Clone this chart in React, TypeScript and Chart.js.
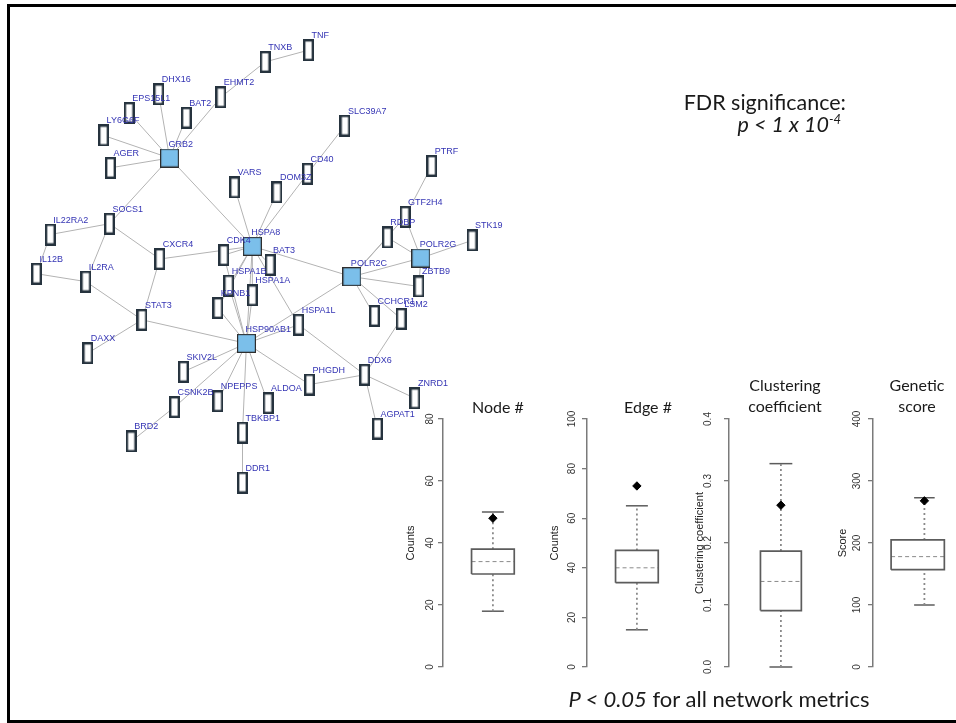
import React, { useEffect, useRef } from "react";
import { Chart, registerables } from "chart.js";
Chart.register(...registerables);

// ---------------- Network data (layout units) ----------------
const nodeNames = ["TNF","TNXB","EHMT2","DHX16","EPS15L1","BAT2","LY6G6F","AGER","GRB2","VARS","DOM3Z","CD40","SLC39A7","SOCS1","IL22RA2","IL12B","IL2RA","DAXX","STAT3","CXCR4","CDK4","HSPA8","BAT3","HSPA1B","HSPA1A","KPNB1","HSP90AB1","HSPA1L","SKIV2L","CSNK2B","BRD2","NPEPPS","ALDOA","TBKBP1","DDR1","PHGDH","PTRF","GTF2H4","RDBP","STK19","POLR2G","POLR2C","ZBTB9","CCHCR1","LSM2","DDX6","ZNRD1","AGPAT1"];
const nodeX = [306,262,217,154,124,182,98,105,165,231,274,305,343,104,44,30,80,82,137,155,220,249,267,225,249,214,243,296,179,170,126,214,265,239,239,307,431,404,386,472,420,350,418,373,400,363,414,376];
const nodeY = [44,56,92,89,108,113,131,164,154,184,189,170,121,221,232,272,280,353,319,257,253,244,263,284,294,307,343,324,372,408,443,402,404,434,485,385,162,214,235,238,256,275,285,315,318,375,399,430];
const hubNodes = ["GRB2","HSPA8","HSP90AB1","POLR2C","POLR2G"];
const edgeList: [string, string][] = [
  ["TNF","TNXB"],["TNXB","EHMT2"],["EHMT2","GRB2"],["BAT2","GRB2"],["DHX16","GRB2"],["EPS15L1","GRB2"],["LY6G6F","GRB2"],["AGER","GRB2"],["GRB2","SOCS1"],["GRB2","HSPA8"],
  ["SOCS1","IL22RA2"],["SOCS1","IL2RA"],["SOCS1","CXCR4"],["IL22RA2","IL12B"],["IL12B","IL2RA"],["IL2RA","STAT3"],["STAT3","DAXX"],["STAT3","CXCR4"],["STAT3","HSP90AB1"],["CXCR4","HSPA8"],
  ["VARS","HSPA8"],["DOM3Z","HSPA8"],["CD40","HSPA8"],["CD40","SLC39A7"],["CDK4","HSPA8"],["CDK4","HSP90AB1"],["BAT3","HSPA8"],["HSPA1B","HSPA8"],["HSPA1A","HSPA8"],["KPNB1","HSPA8"],
  ["HSPA8","HSP90AB1"],["HSPA8","HSPA1L"],["HSPA8","POLR2C"],["HSPA1B","HSP90AB1"],["HSPA1A","HSP90AB1"],["KPNB1","HSP90AB1"],["HSP90AB1","HSPA1L"],["HSP90AB1","POLR2C"],["HSP90AB1","SKIV2L"],["HSP90AB1","CSNK2B"],
  ["HSP90AB1","NPEPPS"],["HSP90AB1","TBKBP1"],["HSP90AB1","ALDOA"],["HSP90AB1","PHGDH"],["CSNK2B","BRD2"],["TBKBP1","DDR1"],["HSPA1L","DDX6"],["PHGDH","DDX6"],["DDX6","ZNRD1"],["DDX6","AGPAT1"],
  ["DDX6","LSM2"],["LSM2","POLR2C"],["CCHCR1","POLR2C"],["ZBTB9","POLR2C"],["ZBTB9","POLR2G"],["POLR2C","POLR2G"],["POLR2C","RDBP"],["POLR2C","GTF2H4"],["RDBP","POLR2G"],["GTF2H4","POLR2G"],["GTF2H4","PTRF"],["STK19","POLR2G"]
];

// ---------------- Boxplot data ----------------
const metricTitles = ["Node #", "Edge #", "Clustering\ncoefficient", "Genetic\nscore"];
const metricAxisTitles = ["Counts", "Counts", "Clustering coefficient", "Score"];
const metricMin = [18, 15, 0, 100];
const metricQ1 = [30, 34, 0.091, 157];
const metricMedian = [34, 40, 0.138, 178];
const metricQ3 = [38, 47, 0.187, 205];
const metricMax = [50, 65, 0.328, 273];
const metricObserved = [48, 73, 0.261, 268];
const axisMax = [80, 100, 0.4, 400];
const axisStep = [20, 20, 0.1, 100];
const tickDecimals = [0, 0, 1, 0];

// ---------------- Layout (pixels / fractions) ----------------
const AXIS_W = 50;
const PANEL_TOP = 400;
const PANEL_H = 287;
const panelLayout = [
  { axis: 443, plotW: 105, boxL: 0.286, boxR: 0.714, wx: 0.5, cap: 0.11, tickPad: 2.5, titlePad: 11.4, titleCx: 498 },
  { axis: 587, plotW: 105, boxL: 0.286, boxR: 0.714, wx: 0.5, cap: 0.11, tickPad: 1, titlePad: 11.4, titleCx: 648 },
  { axis: 729, plotW: 109, boxL: 0.303, boxR: 0.697, wx: 0.5, cap: 0.11, tickPad: 8.5, titlePad: 14.4, titleCx: 785 },
  { axis: 873, plotW: 108, boxL: 0.176, boxR: 0.694, wx: 0.5, cap: 0.1, tickPad: 2, titlePad: 13.4, titleCx: 917 },
];

const labelPlugin = {
  id: "nodeLabels",
  afterDatasetsDraw(chart: any) {
    const { ctx, scales } = chart;
    ctx.save();
    ctx.font = '9px "Liberation Sans", Arial, sans-serif';
    ctx.fillStyle = "#3434b4";
    ctx.textBaseline = "alphabetic";
    nodeNames.forEach((n, i) => {
      const px = scales.x.getPixelForValue(nodeX[i]);
      const py = scales.y.getPixelForValue(nodeY[i]);
      const hub = hubNodes.includes(n);
      ctx.fillText(n, px + (hub ? -1 : 3), py - (hub ? 11 : 12));
    });
    ctx.restore();
  },
};

function NetworkChart() {
  const ref = useRef<HTMLCanvasElement>(null);
  useEffect(() => {
    const small = document.createElement("canvas");
    small.width = 11; small.height = 22;
    const sc = small.getContext("2d")!;
    sc.fillStyle = "#ffffff"; sc.fillRect(0, 0, 11, 22);
    sc.strokeStyle = "#26333e"; sc.lineWidth = 2.4; sc.strokeRect(1.2, 1.2, 8.6, 19.6);
    const hub = document.createElement("canvas");
    hub.width = 19; hub.height = 19;
    const hc = hub.getContext("2d")!;
    hc.fillStyle = "#7bbfea"; hc.fillRect(0, 0, 19, 19);
    hc.strokeStyle = "#2e2e2e"; hc.lineWidth = 1.2; hc.strokeRect(0.6, 0.6, 17.8, 17.8);

    const idx = (n: string) => nodeNames.indexOf(n);
    const edgeDatasets = edgeList.map(([a, b]) => ({
      data: [ { x: nodeX[idx(a)], y: nodeY[idx(a)] }, { x: nodeX[idx(b)], y: nodeY[idx(b)] } ],
      showLine: true, borderColor: "#b3b3b3", borderWidth: 1, pointRadius: 0, order: 2, clip: false as any,
    }));
    const nodeDataset = {
      data: nodeNames.map((_, i) => ({ x: nodeX[i], y: nodeY[i] })),
      pointStyle: nodeNames.map((n) => (hubNodes.includes(n) ? hub : small)),
      pointRadius: 6, showLine: false, order: 1, clip: false as any,
    };
    const chart = new Chart(ref.current!, {
      type: "scatter",
      data: { datasets: [nodeDataset as any, ...edgeDatasets] },
      options: {
        animation: false, responsive: false, events: [],
        layout: { padding: 0 },
        plugins: { legend: { display: false }, tooltip: { enabled: false } },
        scales: {
          x: { display: false, min: 0, max: 956 },
          y: { display: false, min: 0, max: 723, reverse: true },
        },
      },
      plugins: [labelPlugin],
    });
    return () => chart.destroy();
  }, []);
  return <canvas ref={ref} width={956} height={723} style={{ position: "absolute", left: 0, top: 0 }} />;
}

function BoxPanel({ i }: { i: number }) {
  const ref = useRef<HTMLCanvasElement>(null);
  const L = panelLayout[i];
  const w = AXIS_W + L.plotW;
  useEffect(() => {
    const line = (pts: { x: number; y: number }[], color: string, width: number, dash: number[] = []) => ({
      data: pts, showLine: true, borderColor: color, borderWidth: width, borderDash: dash, pointRadius: 0, clip: false as any,
    });
    const q1 = metricQ1[i], q3 = metricQ3[i], med = metricMedian[i], lo = metricMin[i], hi = metricMax[i];
    const datasets: any[] = [
      { data: [{ x: L.wx, y: metricObserved[i] }], pointStyle: "rectRot", pointRadius: 4.2, backgroundColor: "#000", borderColor: "#000", borderWidth: 1, showLine: false, clip: false },
      line([{ x: L.boxL, y: q1 }, { x: L.boxR, y: q1 }, { x: L.boxR, y: q3 }, { x: L.boxL, y: q3 }, { x: L.boxL, y: q1 }], "#5c5c5c", 1.7),
      line([{ x: L.boxL, y: med }, { x: L.boxR, y: med }], "#8a8a8a", 1, [4, 3]),
      line([{ x: L.wx, y: q3 }, { x: L.wx, y: hi }], "#8a8a8a", 1.8, [2, 3]),
      line([{ x: L.wx, y: lo }, { x: L.wx, y: q1 }], "#8a8a8a", 1.8, [2, 3]),
      line([{ x: L.wx - L.cap, y: hi }, { x: L.wx + L.cap, y: hi }], "#5c5c5c", 1.5),
      line([{ x: L.wx - L.cap, y: lo }, { x: L.wx + L.cap, y: lo }], "#5c5c5c", 1.5),
    ];
    const chart = new Chart(ref.current!, {
      type: "scatter",
      data: { datasets },
      options: {
        animation: false, responsive: false, events: [],
        layout: { padding: { left: 0, right: 0, top: 419 - PANEL_TOP, bottom: PANEL_TOP + PANEL_H - 667 } },
        plugins: { legend: { display: false }, tooltip: { enabled: false } },
        scales: {
          x: { display: false, min: 0, max: 1 },
          y: {
            min: 0, max: axisMax[i], position: "left",
            afterFit: (s: any) => { s.width = AXIS_W; },
            ticks: {
              stepSize: axisStep[i], minRotation: 90, maxRotation: 90, crossAlign: "center", padding: L.tickPad,
              color: "#333", font: { size: 10, family: '"Liberation Sans", Arial, sans-serif' },
              callback: (v: any) => Number(v).toFixed(tickDecimals[i]),
            },
            grid: { drawOnChartArea: false, drawTicks: true, tickLength: 5, color: "#7a7a7a", lineWidth: 1.3 },
            border: { display: true, color: "#7a7a7a", width: 1.5 },
            title: {
              display: true, text: metricAxisTitles[i], color: "#222",
              font: { size: 11, family: '"Liberation Sans", Arial, sans-serif' },
              padding: { top: L.titlePad, bottom: 0 },
            },
          },
        },
      },
    });
    return () => chart.destroy();
  }, [i]);
  return (
    <canvas ref={ref} width={w} height={PANEL_H}
      style={{ position: "absolute", left: L.axis - AXIS_W, top: PANEL_TOP }} />
  );
}

const calibri = 'Lato, "Open Sans", "Liberation Sans", sans-serif';

export default function App() {
  return (
    <div style={{ position: "fixed", left: 0, top: 0, width: 956, height: 723, overflow: "hidden", background: "#fff" }}>
      <div style={{ position: "absolute", left: 7, top: 4, width: 1000, height: 713, borderTop: "3px solid #000", borderLeft: "3px solid #000", borderBottom: "3px solid #000" }} />
      <NetworkChart />
      {metricTitles.map((t, i) => {
        const lines = t.split("\n");
        const top = lines.length === 1 ? 396 : 374;
        return (
          <div key={i} style={{ position: "absolute", left: panelLayout[i].titleCx - 100, top, width: 200, textAlign: "center", fontFamily: calibri, fontSize: 16, lineHeight: "21px", color: "#1a1a1a" }}>
            {lines.map((l, k) => <div key={k}>{l}</div>)}
          </div>
        );
      })}
      {[0, 1, 2, 3].map((i) => <BoxPanel key={i} i={i} />)}
      <div style={{ position: "absolute", right: 956 - 846, top: 91, textAlign: "right", fontFamily: calibri, fontSize: 21.5, lineHeight: "22px", color: "#1a1a1a" }}>
        <div>FDR significance:</div>
        <div style={{ fontStyle: "italic", paddingRight: 5 }}>p &lt; 1 x 10<sup style={{ fontSize: 13, lineHeight: 0 }}>-4</sup></div>
      </div>
      <div style={{ position: "absolute", left: 469, width: 500, top: 688, textAlign: "center", fontFamily: calibri, fontSize: 22, lineHeight: "22px", color: "#1a1a1a" }}>
        <span style={{ fontStyle: "italic" }}>P &lt; 0.05</span> for all network metrics
      </div>
    </div>
  );
}
